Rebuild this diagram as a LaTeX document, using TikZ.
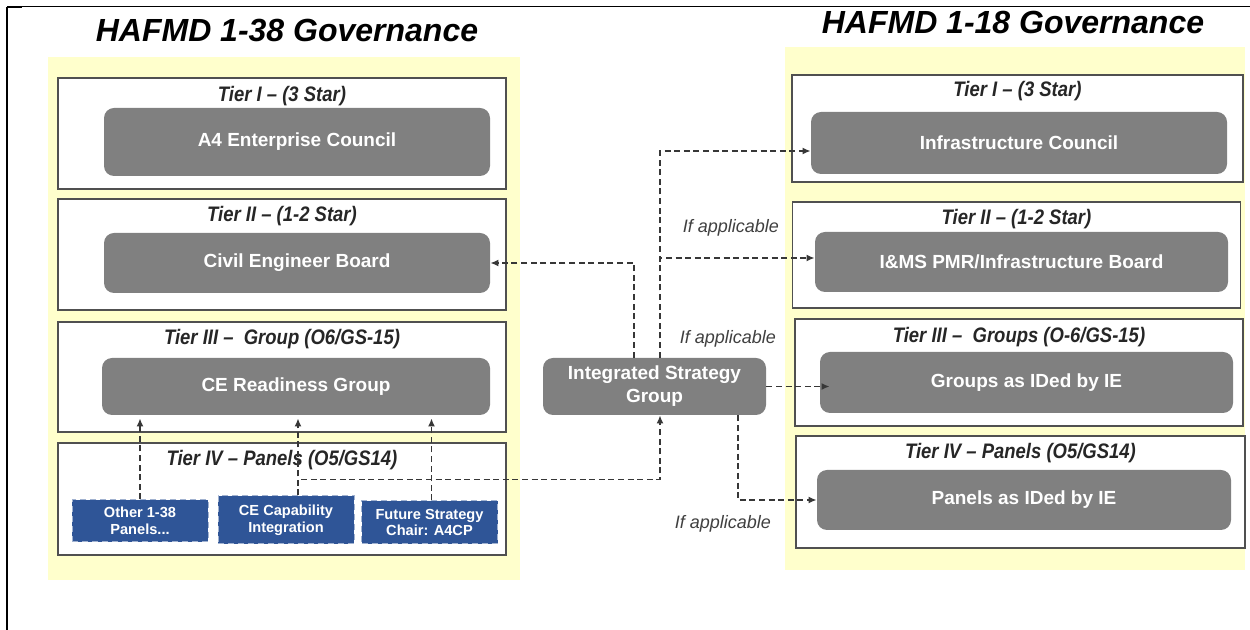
\documentclass[tikz,border=0pt]{standalone}
\usepackage{fontspec}
\setmainfont{Liberation Sans}
\newfontfamily\tierfont{Liberation Sans}[FakeStretch=0.88]
\usetikzlibrary{arrows.meta, positioning}
\definecolor{paneyellow}{RGB}{255,255,204}
\definecolor{boxgray}{RGB}{128,128,128}
\definecolor{tierline}{RGB}{80,80,80}
\definecolor{panelblue}{RGB}{47,85,151}
\definecolor{linkgray}{RGB}{55,55,55}

\begin{document}
\begin{tikzpicture}[
    x=0.5pt, y=-0.5pt,
    tier/.style={
        rectangle,
        draw=tierline,
        fill=white,
        line width=0.8pt,
        minimum width=224pt,
        minimum height=55.5pt
    },
    tierlabel/.style={font=\tierfont\fontsize{10.5}{12}\selectfont\bfseries\itshape, text=black!85},
    body/.style={
        rectangle,
        fill=boxgray,
        rounded corners=5pt,
        text=white,
        font=\fontsize{9.5}{11.5}\selectfont\bfseries,
        align=center
    },
    panel/.style={
        rectangle,
        fill=panelblue,
        draw=panelblue!45,
        densely dashed,
        line width=0.5pt,
        text=white,
        font=\fontsize{7.3}{8.3}\selectfont\bfseries,
        align=center,
        minimum width=68pt
    },
    title/.style={font=\fontsize{16}{19}\selectfont\bfseries\itshape},
    note/.style={font=\fontsize{9}{11}\selectfont\itshape, text=black!75, anchor=east},
    arrow/.style={-{Latex[length=4pt,width=3.5pt]}, line width=0.9pt, color=linkgray, dash pattern=on 3pt off 1.8pt}
]

\useasboundingbox (0,0) rectangle (1250,630);
\fill[white] (0,0) rectangle (1250,630);
\draw[line width=0.5pt] (7,7) -- (1250,7);
\draw[line width=1pt] (7,7) -- (7,630);
\draw[line width=1.2pt] (7,7) -- (22,7);

\fill[paneyellow] (48,57) rectangle (520,580);
\fill[paneyellow] (785,47) rectangle (1245,570);

\node[title] (title38) at (287,30) {HAFMD 1-38 Governance};
\node[title] (title18) at (1013,22) {HAFMD 1-18 Governance};

\node[tier] (lt1) at (282,133.5) {};
\node[tier] (lt2) at (282,254.5) {};
\node[tier, minimum height=55pt] (lt3) at (282,377) {};
\node[tier, minimum height=56pt] (lt4) at (282,499) {};

\node[tierlabel] (lt1lbl) at ([yshift=-9.5pt]lt1.north) {Tier I – (3 Star)};
\node[tierlabel] (lt2lbl) at ([yshift=-9pt]lt2.north) {Tier II – (1-2 Star)};
\node[tierlabel] (lt3lbl) at ([yshift=-9pt]lt3.north) {Tier III –\ \ Group (O6/GS-15)};
\node[tierlabel] (lt4lbl) at ([yshift=-9pt]lt4.north) {Tier IV – Panels (O5/GS14)};

\node[body, minimum width=193pt, minimum height=34pt] (a4council) at (297,142) {A4 Enterprise Council};
\node[body, minimum width=193pt, minimum height=30pt] (ceboard) at (297,263) {Civil Engineer Board};
\node[body, minimum width=194pt, minimum height=28.5pt] (cereadiness) at (296,386.5) {CE Readiness Group};

\node[panel, minimum height=21pt] (otherpanels) at (140,521) {Other 1-38\\Panels...};
\node[panel, minimum height=24pt] (cecap) at (286,520) {CE Capability\\Integration};
\node[panel, minimum height=21.5pt] (futurestrat) at (429.5,522.5) {Future Strategy\\Chair: A4CP};

\node[body, minimum width=111.5pt, minimum height=28.5pt] (isg) at (654.5,386.5) {Integrated Strategy\\Group};

\node[tier, minimum width=225.5pt, minimum height=53.5pt] (rt1) at (1017.5,128.5) {};
\node[tier, minimum height=53pt] (rt2) at (1016.5,255) {};
\node[tier, minimum height=53.5pt] (rt3) at (1019,372.5) {};
\node[tier, minimum width=224.5pt, minimum height=56pt] (rt4) at (1020.5,492) {};

\node[tierlabel] (rt1lbl) at ([yshift=-8.5pt]rt1.north) {Tier I – (3 Star)};
\node[tierlabel] (rt2lbl) at ([yshift=-9pt]rt2.north) {Tier II – (1-2 Star)};
\node[tierlabel] (rt3lbl) at ([yshift=-9.5pt]rt3.north) {Tier III –\ \ Groups (O-6/GS-15)};
\node[tierlabel] (rt4lbl) at ([yshift=-9pt]rt4.north) {Tier IV – Panels (O5/GS14)};

\node[body, minimum width=208pt, minimum height=31pt] (infracouncil) at (1019,143) {Infrastructure Council};
\node[body, minimum width=206.5pt, minimum height=30pt] (pmrboard) at (1021.5,262) {I\&MS PMR/Infrastructure Board};
\node[body, minimum width=206.5pt, minimum height=30.5pt] (iegroups) at (1026.5,382.5) {Groups as IDed by IE};
\node[body, minimum width=207pt, minimum height=30pt] (iepanels) at (1024,500) {Panels as IDed by IE};

\draw[arrow] (otherpanels.north) -- ([yshift=-1.5pt]otherpanels.north |- cereadiness.south);
\draw[arrow] ([xshift=6pt]cecap.north) -- ([xshift=6pt,yshift=-1.5pt]cecap.north |- cereadiness.south);
\draw[arrow] ([xshift=1pt]futurestrat.north) -- ([xshift=1pt,yshift=-1.5pt]futurestrat.north |- cereadiness.south);
\draw[arrow] ([xshift=6pt]cecap.north) -- ++(0,-16) -| ([xshift=2.75pt]isg.south);
\draw[arrow] ([xshift=-10.25pt]isg.north) |- (ceboard.east);
\draw[arrow] ([xshift=2.75pt]isg.north) |- ([yshift=-4pt]infracouncil.west);
\draw[arrow] ([xshift=2.75pt]isg.north) |- ([yshift=2pt]pmrboard.west);
\draw[arrow] (isg.east) -- ([xshift=5pt]isg.east -| iegroups.west);
\draw[arrow] ([xshift=41.75pt]isg.south) |- (iepanels.west);

\node[note] (note1) at (786,228) {If applicable};
\node[note] (note2) at (783,339) {If applicable};
\node[note] (note3) at (778,524) {If applicable};

\end{tikzpicture}
\end{document}
